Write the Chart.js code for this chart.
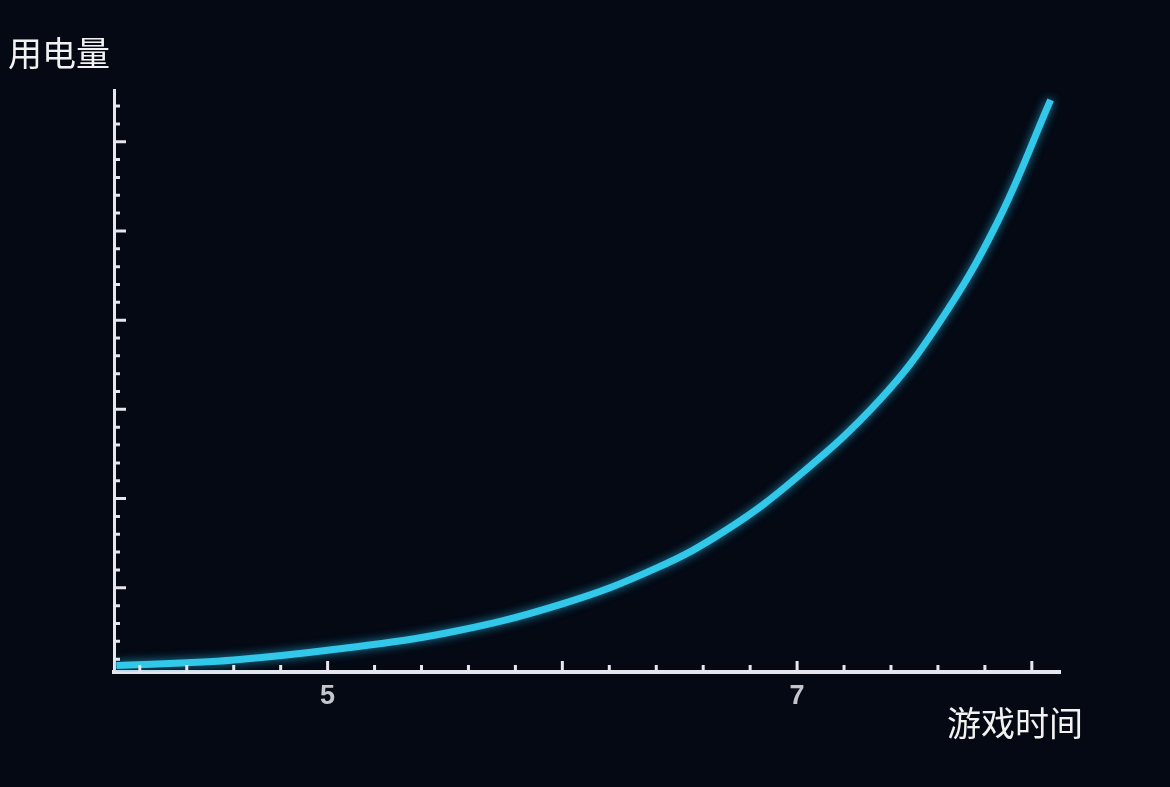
<!DOCTYPE html>
<html>
<head>
<meta charset="utf-8">
<title>用电量 - 游戏时间</title>
<script src="https://cdn.jsdelivr.net/npm/chart.js@4.4.0/dist/chart.umd.min.js"></script>
<style>
  html, body { margin: 0; padding: 0; background: #040914; overflow: hidden; }
  #wrap { position: relative; width: 1170px; height: 787px; }
  .label { position: absolute; color: #f2f2f2; font-family: 'Noto Sans CJK SC', sans-serif; font-size: 34px; line-height: 1; white-space: nowrap; }
  #yTitle { left: 8px; top: 35px; }
  #xTitle { left: 947px; top: 705px; }
</style>
</head>
<body>
<div id="wrap">
  <canvas id="powerChart" width="1170" height="787"></canvas>
  <div class="label" id="yTitle">用电量</div>
  <div class="label" id="xTitle">游戏时间</div>
</div>
<script>
// values
const playTime = [4.1, 4.4, 4.6, 5.0, 5.5, 6.0, 6.4, 6.7, 7.0, 7.35, 7.6, 7.85, 8.08];
const power = [0.13, 0.16, 0.19, 0.30, 0.49, 0.82, 1.22, 1.65, 2.24, 3.1, 3.95, 5.08, 6.47];
const xMajorTicks = [5, 6, 7, 8];
const xTickLabels = [5, 7];
const yMajorTicks = [1, 2, 3, 4, 5, 6];

const axisColor = '#e6e6ec';
const lineColor = '#32c8ea';

const ctx = document.getElementById('powerChart');

// tick marks point into the plot, so draw them ourselves
const innerTicks = {
  id: 'innerTicks',
  afterDraw(chart) {
    const c = chart.ctx;
    const x = chart.scales.x;
    const y = chart.scales.y;
    const area = chart.chartArea;
    c.save();
    c.strokeStyle = axisColor;
    c.lineWidth = 3;
    c.beginPath();
    for (let i = 21; i <= 40; i++) {
      const v = i / 5;
      const px = x.getPixelForValue(v);
      const len = xMajorTicks.includes(v) ? 11 : 7;
      c.moveTo(px, area.bottom);
      c.lineTo(px, area.bottom - len);
    }
    for (let i = 1; i <= 32; i++) {
      const v = i / 5;
      const py = y.getPixelForValue(v);
      const len = yMajorTicks.includes(v) ? 12 : 6;
      c.moveTo(area.left, py);
      c.lineTo(area.left + len, py);
    }
    c.stroke();
    c.restore();
  },
};

const glow = {
  id: 'glow',
  beforeDatasetsDraw(chart) {
    chart.ctx.save();
    chart.ctx.shadowColor = 'rgba(40, 190, 235, 0.7)';
    chart.ctx.shadowBlur = 10;
  },
  afterDatasetsDraw(chart) {
    chart.ctx.restore();
  },
};

const data = {
  datasets: [
    {
      label: '用电量',
      data: playTime.map((t, i) => ({ x: t, y: power[i] })),
      borderColor: lineColor,
      borderWidth: 7,
      pointRadius: 0,
      showLine: true,
      fill: false,
      tension: 0.4,
    },
  ],
};

const config = {
  type: 'scatter',
  data: data,
  options: {
    responsive: false,
    animation: false,
    devicePixelRatio: 1,
    layout: { padding: { left: 114, right: 110, top: 90, bottom: 65 } },
    plugins: { legend: { display: false }, tooltip: { enabled: false } },
    scales: {
      x: {
        type: 'linear',
        min: 4.09,
        max: 8.12,
        afterFit: (s) => { s.height = 50; },
        border: { display: true, color: axisColor, width: 4 },
        grid: { display: false, drawTicks: false },
        ticks: {
          stepSize: 1,
          includeBounds: false,
          autoSkip: false,
          maxRotation: 0,
          padding: 8,
          color: '#c4c4ca',
          font: { family: 'Liberation Sans', size: 27, weight: 'bold' },
          callback: (v) => (xTickLabels.includes(v) ? String(v) : ''),
        },
      },
      y: {
        type: 'linear',
        min: 0.056,
        max: 6.58,
        afterFit: (s) => { s.width = 0; },
        border: { display: true, color: axisColor, width: 3 },
        grid: { display: false, drawTicks: false },
        ticks: { display: false },
      },
    },
  },
  plugins: [glow, innerTicks],
};

const powerChart = new Chart(ctx, config);
</script>
</body>
</html>
